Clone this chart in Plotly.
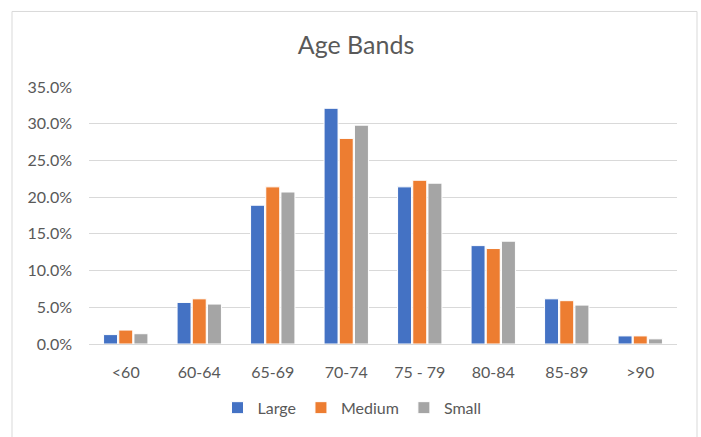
import plotly.graph_objects as go

categories = ["<60", "60-64", "65-69", "70-74", "75 - 79", "80-84", "85-89", ">90"]
large = [0.0128, 0.0566, 0.189, 0.321, 0.214, 0.134, 0.0615, 0.011]
medium = [0.019, 0.0615, 0.214, 0.280, 0.223, 0.130, 0.059, 0.011]
small = [0.014, 0.0544, 0.207, 0.298, 0.219, 0.140, 0.053, 0.007]

series = [("Large", large, "#4472C4"), ("Medium", medium, "#ED7D31"), ("Small", small, "#A5A5A5")]

fig = go.Figure()
for name, vals, color in series:
    fig.add_trace(go.Bar(
        x=categories, y=vals, name=name,
        marker=dict(color=color, line=dict(color="white", width=1)),
    ))

W, H = 701, 437
L, R, T, B = 89, 24, 87, 88
pw, ph = W - L - R, H - T - B

def px_x(x):
    return (x - L) / pw

def px_y(y):
    return (H - B - y) / ph

fig.update_layout(
    width=W, height=H,
    margin=dict(l=L, r=R, t=T, b=B),
    paper_bgcolor="white", plot_bgcolor="white",
    font=dict(family="Lato, Open Sans, sans-serif", color="#595959", size=15),
    title=dict(text="Age Bands", x=356 / W, xanchor="center", y=1 - 45 / H, yanchor="middle",
               font=dict(size=25, color="#595959")),
    barmode="group", bargap=0.38, bargroupgap=0.08,
    showlegend=True,
    legend=dict(orientation="h", x=px_x(352), xanchor="center", y=px_y(414), yanchor="middle",
                font=dict(size=16, color="#595959"), itemwidth=30, traceorder="normal"),
    xaxis=dict(showgrid=False, showline=True, linecolor="#D9D9D9", linewidth=1, ticks="",
               tickfont=dict(size=16), ticklabelstandoff=14),
    yaxis=dict(range=[0, 0.35], dtick=0.05, tickformat=".1%", showgrid=True, gridcolor="#D9D9D9",
               gridwidth=1, zeroline=False, showline=False, ticks="", tickfont=dict(size=16),
               ticklabelstandoff=16),
    shapes=[dict(type="rect", xref="paper", yref="paper",
                 x0=px_x(12), x1=px_x(697), y0=px_y(445), y1=px_y(10),
                 line=dict(color="#D9D9D9", width=1), fillcolor="rgba(0,0,0,0)", layer="below")],
)

fig.write_html("out.html")
